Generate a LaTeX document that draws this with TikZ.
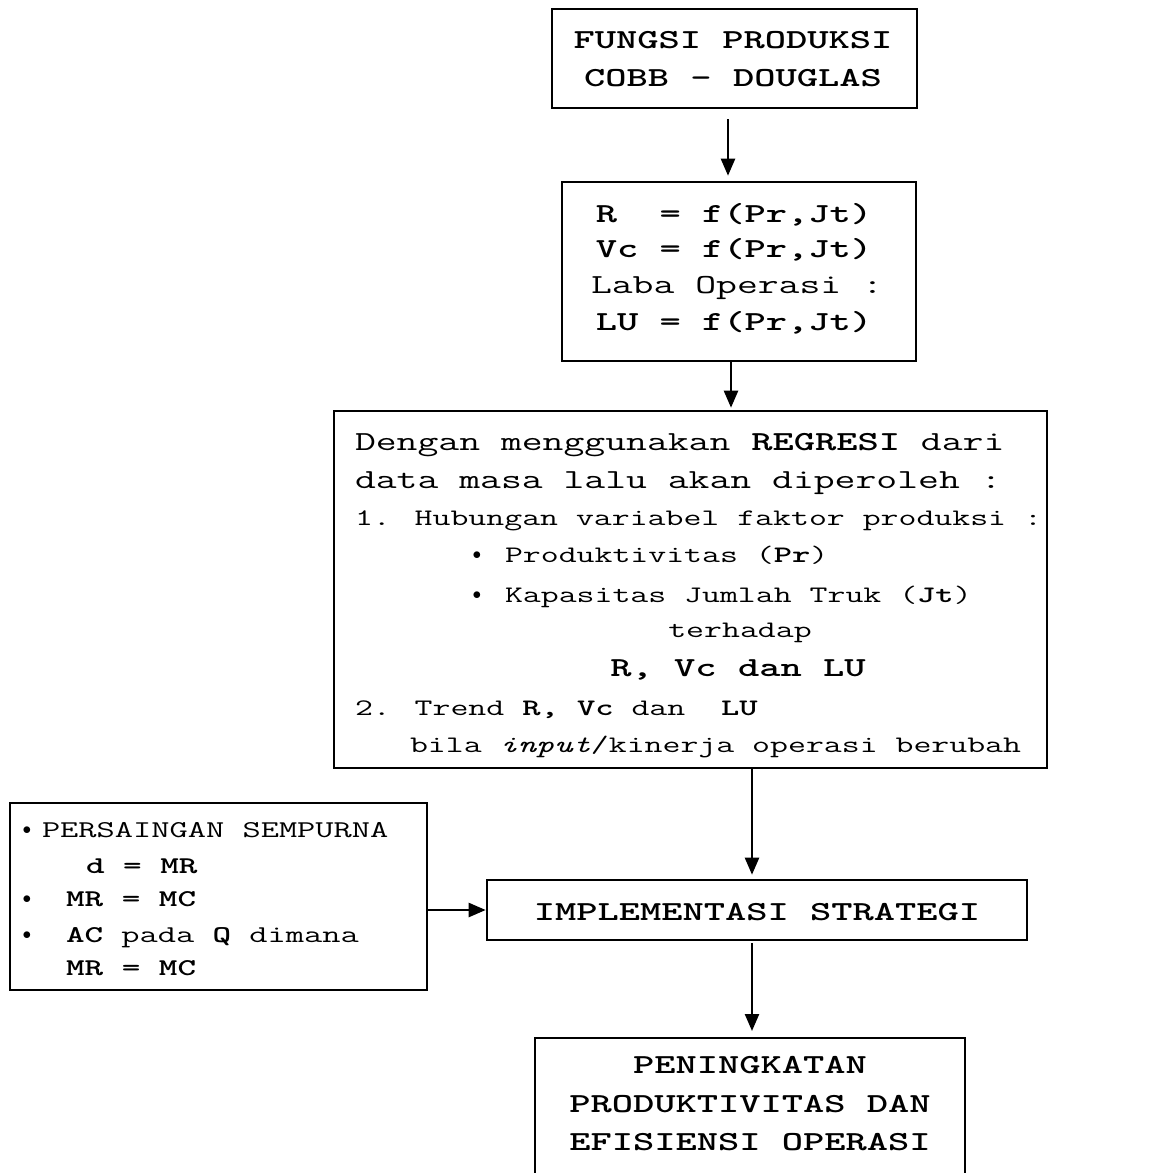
\documentclass[tikz,border=0pt]{standalone}
\usepackage{graphicx}
\usetikzlibrary{arrows.meta}

% typewriter faces, set slightly flattened
\newcommand\sqz[1]{\scalebox{1}[0.68]{#1}}
\newcommand\bigtt{\fontfamily{lmtt}\fontsize{40.5}{40}\selectfont}
\newcommand\midtt{\fontfamily{lmtt}\fontsize{34.8}{35}\selectfont}
\newcommand\lefttt{\fontfamily{lmtt}\fontsize{35.4}{35}\selectfont}
\newcommand\dotmark{\fontsize{18}{18}\selectfont$\bullet$}

\tikzset{
  box/.style={draw, line width=2.6pt, inner sep=0pt},
  frame/.style={line width=2.6pt},
  lbl/.style={inner sep=0pt, outer sep=0pt},
  link/.style={line width=2.4pt, -{Triangle[length=17pt,width=14pt]}},
}

\begin{document}
\begin{tikzpicture}[x=1pt,y=-1pt]
\useasboundingbox (0,0) rectangle (1151,1173);

% boxes
\node[box, minimum width=365pt, minimum height=99pt]  (fungsi)   at (734.5,58.5) {};
\node[box, minimum width=354pt, minimum height=179pt] (rumus)    at (739,271.5) {};
\node[box, minimum width=713pt, minimum height=357pt] (regresi)  at (690.5,589.5) {};
\node[box, minimum width=417pt, minimum height=187pt] (pasar)    at (218.5,896.5) {};
\node[box, minimum width=540pt, minimum height=60pt]  (strategi) at (757,910) {};
\node[lbl, minimum width=430pt, minimum height=162pt] (hasil)    at (750,1119) {};
\draw[frame] (hasil.south west) -- (hasil.north west) -- (hasil.north east) -- (hasil.south east);

% Cobb-Douglas
\node[lbl, anchor=base] (f1) at (733,48) {\sqz{\bigtt\bfseries FUNGSI PRODUKSI}};
\node[lbl, anchor=base] (f2) at (733,86) {\sqz{\bigtt\bfseries COBB - DOUGLAS}};

% production functions
\node[lbl, anchor=base] (r1) at (734,222) {\sqz{\bigtt\bfseries R~~= f(Pr,Jt)}};
\node[lbl, anchor=base] (r2) at (734,257) {\sqz{\bigtt\bfseries Vc = f(Pr,Jt)}};
\node[lbl, anchor=base] (r3) at (737,293) {\sqz{\bigtt Laba Operasi :}};
\node[lbl, anchor=base] (r4) at (734,330) {\sqz{\bigtt\bfseries LU = f(Pr,Jt)}};

% regression box
\node[lbl, anchor=base west] (g1) at (355,450) {\sqz{\bigtt Dengan menggunakan \textbf{REGRESI} dari}};
\node[lbl, anchor=base west] (g2) at (355,488) {\sqz{\bigtt data masa lalu akan diperoleh :}};
\node[lbl, anchor=base west] (g3) at (355,525) {\sqz{\midtt 1. Hubungan variabel faktor produksi :}};
\node[lbl] (g4b) at (477,556) {\dotmark};
\node[lbl, anchor=base west] (g4) at (505,562) {\sqz{\midtt Produktivitas (\textbf{Pr})}};
\node[lbl] (g5b) at (477,596) {\dotmark};
\node[lbl, anchor=base west] (g5) at (505,602) {\sqz{\midtt Kapasitas Jumlah Truk (\textbf{Jt})}};
\node[lbl, anchor=base] (g6) at (740,637) {\sqz{\midtt terhadap}};
\node[lbl, anchor=base] (g7) at (738,676) {\sqz{\bigtt\bfseries R, Vc dan LU}};
\node[lbl, anchor=base west] (g8) at (355,715) {\sqz{\midtt 2. Trend \textbf{R, Vc} dan~~\textbf{LU}}};
\node[lbl, anchor=base west] (g9) at (410,752) {\sqz{\midtt bila \textit{input}/kinerja operasi berubah}};

% market conditions
\node[lbl] (p1b) at (27,831) {\dotmark};
\node[lbl, anchor=base west] (p1) at (42,837) {\sqz{\lefttt PERSAINGAN SEMPURNA}};
\node[lbl, anchor=base west] (p2) at (86,873) {\sqz{\lefttt\bfseries d = MR}};
\node[lbl] (p3b) at (27,900) {\dotmark};
\node[lbl, anchor=base west] (p3) at (66,906) {\sqz{\lefttt\bfseries MR = MC}};
\node[lbl] (p4b) at (27,936) {\dotmark};
\node[lbl, anchor=base west] (p4) at (66,942) {\sqz{\lefttt \textbf{AC} pada \textbf{Q} dimana}};
\node[lbl, anchor=base west] (p5) at (66,975) {\sqz{\lefttt\bfseries MR = MC}};

% strategy and outcome
\node[lbl, anchor=base] (s1) at (757,920) {\sqz{\bigtt\bfseries IMPLEMENTASI STRATEGI}};
\node[lbl, anchor=base] (h1) at (750,1073) {\sqz{\bigtt\bfseries PENINGKATAN}};
\node[lbl, anchor=base] (h2) at (750,1112) {\sqz{\bigtt\bfseries PRODUKTIVITAS DAN}};
\node[lbl, anchor=base] (h3) at (750,1150) {\sqz{\bigtt\bfseries EFISIENSI OPERASI}};

% connectors
\draw[link, shorten <=10pt, shorten >=5pt] ([xshift=-6.5pt]fungsi.south) -- ([xshift=-11pt]rumus.north);
\draw[link, shorten >=2pt] ([xshift=-8pt]rumus.south) -- ([xshift=40.5pt]regresi.north);
\draw[link, shorten >=4pt] ([xshift=61.5pt]regresi.south) -- ([xshift=-5pt]strategi.north);
\draw[link, shorten <=2pt, shorten >=7pt] ([xshift=-5pt]strategi.south) -- ([xshift=2pt]hasil.north);
\draw[link] (pasar.east |- strategi.west) -- (strategi.west);
\end{tikzpicture}
\end{document}
